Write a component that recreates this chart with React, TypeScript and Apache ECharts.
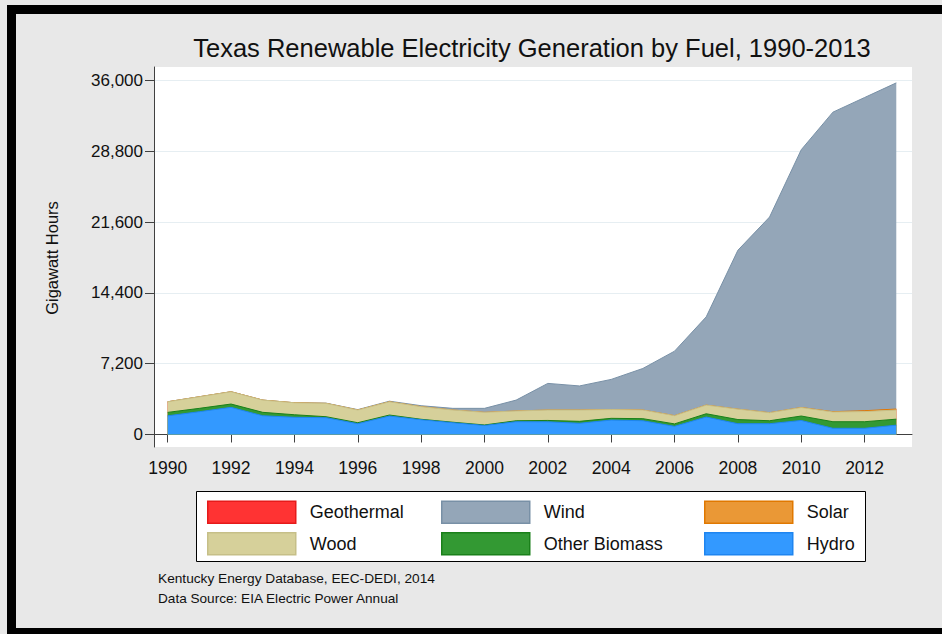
import React, { useEffect, useRef } from 'react';
import * as echarts from 'echarts';

const years = [1990, 1991, 1992, 1993, 1994, 1995, 1996, 1997, 1998, 1999, 2000, 2001, 2002, 2003, 2004, 2005, 2006, 2007, 2008, 2009, 2010, 2011, 2012, 2013];
const hydro = [1900, 2320, 2760, 1910, 1750, 1710, 1100, 1880, 1500, 1200, 920, 1300, 1290, 1140, 1470, 1400, 830, 1780, 1100, 1100, 1430, 630, 630, 950];
const otherBiomass = [350, 340, 340, 345, 260, 100, 100, 100, 50, 50, 50, 100, 140, 200, 175, 210, 250, 330, 420, 300, 450, 670, 670, 610];
const wood = [1080, 1180, 1250, 1245, 1220, 1360, 1290, 1350, 1280, 1240, 1285, 990, 1060, 1150, 890, 880, 840, 880, 1060, 820, 860, 990, 1030, 930];
const solar = [0, 0, 0, 0, 0, 0, 0, 0, 0, 0, 0, 0, 0, 0, 0, 0, 0, 0, 0, 0, 10, 30, 90, 100];
const geothermal = [0, 0, 0, 0, 0, 0, 0, 0, 0, 0, 0, 0, 0, 0, 0, 0, 0, 0, 0, 0, 0, 0, 0, 0];
const wind = [0, 0, 0, 0, 0, 20, 40, 60, 100, 170, 405, 1110, 2710, 2450, 3070, 4230, 6560, 8980, 16170, 19910, 26230, 30480, 31870, 33190];
const yTicks = [0, 7200, 14400, 21600, 28800, 36000];
const xTicks = [1990, 1992, 1994, 1996, 1998, 2000, 2002, 2004, 2006, 2008, 2010, 2012];

const FONT = "'Liberation Sans', Arial, Helvetica, sans-serif";

// bottom-to-top stacking order
const seriesDefs = [
  { name: 'Hydro', data: hydro, fill: '#3399ff', line: '#1f85f0', lw: 1 },
  { name: 'Other Biomass', data: otherBiomass, fill: '#339933', line: '#1a801a', lw: 1 },
  { name: 'Wood', data: wood, fill: '#d6d09a', line: '#c6bf88', lw: 1 },
  { name: 'Solar', data: solar, fill: '#ea9836', line: '#e07800', lw: 1 },
  { name: 'Geothermal', data: geothermal, fill: '#ff3333', line: '#e61a1a', lw: 0 },
  { name: 'Wind', data: wind, fill: '#94a6b8', line: '#7890a6', lw: 1 },
];

const legendCols = [
  ['Geothermal', 'Wood'],
  ['Wind', 'Other Biomass'],
  ['Solar', 'Hydro'],
];
const legendLefts = [207, 441, 704];

export default function App() {
  const ref = useRef<HTMLDivElement>(null);
  useEffect(() => {
    if (!ref.current) return;
    const chart = echarts.init(ref.current, null, { renderer: 'svg' });
    const fmt = (v: number) => Number(v).toLocaleString('en-US');
    const findDef = (n: string) => seriesDefs.find((s) => s.name === n)!;

    // cumulative tops (manual stacking)
    const running = years.map(() => 0);
    const stacked = seriesDefs.map((s) => {
      const tops = s.data.map((v, i) => (running[i] += v));
      return { ...s, tops };
    });
    // draw top layer first so lower layers paint over it
    const drawOrder = stacked.slice().reverse();

    chart.setOption({
      animation: false,
      backgroundColor: 'transparent',
      textStyle: { fontFamily: FONT },
      grid: {
        left: 154, top: 67, width: 758, height: 380,
        show: true, backgroundColor: '#ffffff', borderWidth: 0,
      },
      xAxis: {
        type: 'value', min: 1989.568, max: 2013.496,
        axisLine: { show: true, lineStyle: { color: '#404040', width: 1 } },
        axisTick: { show: true, length: 8, lineStyle: { color: '#404040' }, customValues: xTicks },
        axisLabel: { customValues: xTicks, fontSize: 17.5, color: '#111', margin: 12, fontFamily: FONT, formatter: (v: number) => String(v) },
        splitLine: { show: false },
      },
      yAxis: {
        type: 'value', min: -1272, max: 37394,
        axisLine: { show: true, lineStyle: { color: '#404040', width: 1 } },
        axisTick: { show: true, length: 9, lineStyle: { color: '#404040' }, customValues: yTicks },
        axisLabel: { customValues: yTicks, fontSize: 17, color: '#111', margin: 11, fontFamily: FONT, formatter: fmt },
        splitLine: { show: true, lineStyle: { color: '#e6eef2', width: 1 } },
      },
      legend: legendCols.map((col, i) => ({
        orient: 'vertical', left: legendLefts[i], top: 500.5, padding: 0,
        itemWidth: 88, itemHeight: 22, itemGap: 8, z: 10,
        selectedMode: false, icon: 'rect',
        textStyle: { fontSize: 18, color: '#111', fontFamily: FONT, padding: [0, 0, 0, 9] },
        data: col.map((n) => {
          const d = findDef(n);
          return { name: n, icon: 'rect', itemStyle: { color: d.fill, borderColor: d.line, borderWidth: 1.5 } };
        }),
      })),
      graphic: [
        { type: 'rect', z: 1, shape: { x: 196.5, y: 491.5, width: 669, height: 70 }, style: { fill: '#ffffff', stroke: '#000000', lineWidth: 1 } },
        { type: 'text', x: 532, y: 48, style: { text: 'Texas Renewable Electricity Generation by Fuel, 1990-2013', fontSize: 25.5, fontFamily: FONT, fill: '#111', textAlign: 'center', textVerticalAlign: 'middle' } },
        { type: 'text', x: 52, y: 258, rotation: Math.PI / 2, style: { text: 'Gigawatt Hours', fontSize: 16.5, fontFamily: FONT, fill: '#111', textAlign: 'center', textVerticalAlign: 'middle' } },
        { type: 'text', x: 158, y: 578, style: { text: 'Kentucky Energy Database, EEC-DEDI, 2014', fontSize: 13.7, fontFamily: FONT, fill: '#111', textAlign: 'left', textVerticalAlign: 'middle' } },
        { type: 'text', x: 158, y: 598, style: { text: 'Data Source: EIA Electric Power Annual', fontSize: 13.6, fontFamily: FONT, fill: '#111', textAlign: 'left', textVerticalAlign: 'middle' } },
      ],
      series: drawOrder.map((s, k) => ({
        name: s.name,
        type: 'line',
        symbol: 'none',
        z: 2 + k * 0.01,
        data: years.map((y, i) => [y, s.tops[i]]),
        itemStyle: { color: s.fill },
        lineStyle: { color: s.line, width: s.lw, opacity: s.lw ? 1 : 0 },
        areaStyle: { color: s.fill, opacity: 1, origin: 0 },
        emphasis: { disabled: true },
      })),
    });
    return () => chart.dispose();
  }, []);

  return (
    <div style={{ position: 'fixed', left: 0, top: 0, width: 942, height: 634, background: '#e8e8e8', overflow: 'hidden' }}>
      <div style={{ position: 'absolute', left: 7, top: 5, width: 944, height: 632, border: '9px solid #000', boxSizing: 'border-box' }} />
      <div ref={ref} style={{ position: 'absolute', left: 0, top: 0, width: 942, height: 634 }} />
    </div>
  );
}
